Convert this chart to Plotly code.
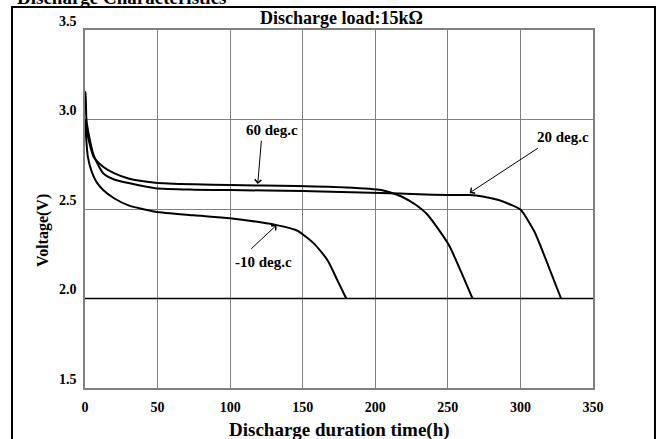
import plotly.graph_objects as go

# ---- data ----
x_ticks = [0, 50, 100, 150, 200, 250, 300, 350]
y_ticks = [1.5, 2.0, 2.5, 3.0, 3.5]

t_60 = [0, 1, 3, 6, 12.5, 20, 30, 48.5, 75, 100, 146, 180, 204, 213, 218, 227.6, 236, 250.6, 258, 267]
v_60 = [3.0, 2.95, 2.87, 2.79, 2.736, 2.70, 2.67, 2.647, 2.638, 2.634, 2.628, 2.62, 2.606, 2.585, 2.57, 2.525, 2.468, 2.30, 2.17, 2.0]

t_20 = [0, 0.4, 1, 3, 6, 12.5, 20, 30, 48.5, 75, 100, 150, 204, 230, 250, 265, 274, 285, 293, 300, 309.6, 319, 328]
v_20 = [3.10, 3.155, 3.0, 2.90, 2.80, 2.70, 2.665, 2.645, 2.616, 2.608, 2.606, 2.60, 2.59, 2.582, 2.578, 2.578, 2.57, 2.55, 2.525, 2.497, 2.374, 2.187, 2.0]

t_m10 = [0, 2, 5, 8, 12.5, 20, 30, 48.5, 75, 100, 132, 146, 157.6, 167, 174, 180]
v_m10 = [3.0, 2.79, 2.70, 2.65, 2.606, 2.56, 2.52, 2.485, 2.465, 2.448, 2.41, 2.38, 2.308, 2.215, 2.10, 2.0]

FONT = "Liberation Serif"

fig = go.Figure()
for t, v in [(t_60, v_60), (t_20, v_20), (t_m10, v_m10)]:
    fig.add_trace(go.Scatter(x=t, y=v, mode="lines", line=dict(color="black", width=2, shape="spline", smoothing=0.6),
                             showlegend=False, hoverinfo="skip"))

grid = "#808080"
fig.update_layout(
    width=667, height=439,
    margin=dict(l=85, r=74, t=30, b=51),
    paper_bgcolor="white", plot_bgcolor="white",
    xaxis=dict(range=[0, 350], tickvals=x_ticks, ticktext=[str(v) for v in x_ticks],
               showgrid=True, gridcolor=grid, gridwidth=1.3, zeroline=False,
               showline=True, linecolor=grid, linewidth=1.5, mirror=True,
               ticks="", ticklabelstandoff=5,
               tickfont=dict(family=FONT, size=14, color="black", weight="bold")),
    yaxis=dict(range=[1.5, 3.5], tickvals=y_ticks, showticklabels=False,
               showgrid=True, gridcolor=grid, gridwidth=1.3, zeroline=False,
               showline=True, linecolor=grid, linewidth=1.5, mirror=True,
               ticks=""),
)

# darker 2.0 line
fig.add_shape(type="line", xref="paper", yref="y", x0=0, x1=1, y0=2.0, y1=2.0,
              line=dict(color="black", width=1.5))

# outer frame
fig.add_shape(type="rect", xref="paper", yref="paper", x0=-0.1437, x1=1.122, y0=-0.17, y1=1.064,
              line=dict(color="black", width=2))

def ann(text, x, y, size, xref="paper", yref="paper", angle=0, xanchor="center", xshift=0, yshift=0):
    fig.add_annotation(text=text, x=x, y=y, xref=xref, yref=yref, showarrow=False, textangle=angle,
                       xanchor=xanchor, yanchor="middle", xshift=xshift, yshift=yshift,
                       font=dict(family=FONT, size=size, color="black", weight="bold"))

# y tick labels (sit slightly above their grid lines, as in the reference)
for v in y_ticks:
    ann("%.1f" % v, 0, v, 14, yref="y", xanchor="right", xshift=-6, yshift=9)

ann("Discharge Characteristics", -0.138, 1.092, 19, xanchor="left")
ann("Discharge load:15k\u03a9", 0.505, 1.034, 18)
ann("Voltage(V)", -0.083, 0.441, 16, angle=-90)
ann("Discharge duration time(h)", 0.50, -0.118, 19)

# curve labels with arrows
ann("60 deg.c", 128.6, 2.94, 15, xref="x", yref="y")
ann("-10 deg.c", 122.7, 2.206, 15, xref="x", yref="y")
ann("20 deg.c", 329, 2.905, 15, xref="x", yref="y")

for (x0, y0, x1, y1) in [(121.6, 2.889, 119, 2.64), (113.5, 2.27, 132, 2.41), (313, 2.845, 265, 2.59)]:
    fig.add_annotation(x=x1, y=y1, ax=x0, ay=y0, xref="x", yref="y", axref="x", ayref="y",
                       text="", showarrow=True, arrowhead=4, arrowsize=1.3, arrowwidth=1, arrowcolor="black")

fig.write_html("out.html", config={"displayModeBar": False},
               post_script="document.body.style.margin='0';document.body.style.overflow='hidden';")
